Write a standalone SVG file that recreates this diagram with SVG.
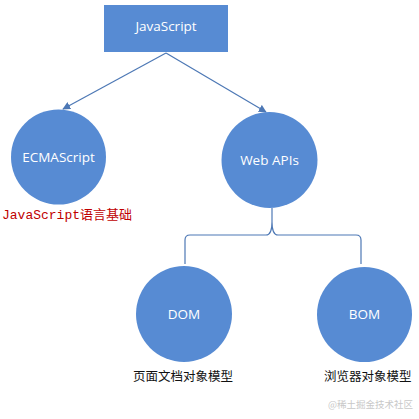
<svg xmlns="http://www.w3.org/2000/svg" width="419" height="419" viewBox="0 0 419 419">
<style>
.n{fill:#578bd3}
.t{font-family:"Open Sans","Liberation Sans",sans-serif;font-size:13.5px;fill:#fff;text-anchor:middle}
.c{fill:none;stroke:#4d78b5;stroke-width:1.2}
.l{font-family:"Noto Sans CJK SC",sans-serif;font-size:12.5px;fill:#111}
</style>
<defs>
<marker id="a" viewBox="0 0 10 10" refX="9" refY="5" markerWidth="8" markerHeight="8" orient="auto" markerUnits="userSpaceOnUse">
<path d="M0,0 L10,5 L0,10 z" fill="#4d78b5"/>
</marker>
</defs>
<rect width="419" height="419" fill="#fff"/>
<g id="connectors">
<path class="c" d="M166,53 L63,109" marker-end="url(#a)"/>
<path class="c" d="M166,53 L266,112" marker-end="url(#a)"/>
<path class="c" d="M272,208 L272,222"/>
<path class="c" d="M185,264 L185,240 Q185,235 190,235 L266,235 Q272,235 272,222 Q272,235 278,235 L356,235 Q361,235 361,240 L361,264"/>
</g>
<g id="javascript">
<rect class="n" x="104" y="5" width="124" height="47"/>
<text class="t" x="166" y="31">JavaScript</text>
</g>
<g id="ecmascript">
<circle class="n" cx="58.5" cy="157" r="47.5"/>
<text class="t" x="58.5" y="162">ECMAScript</text>
<text x="2" y="219" font-size="13" fill="#c00000"><tspan font-family="'Liberation Mono',monospace">JavaScript</tspan><tspan font-family="'Noto Sans CJK SC',sans-serif">语言基础</tspan></text>
</g>
<g id="webapis">
<circle class="n" cx="269.5" cy="160" r="48"/>
<text class="t" x="269.5" y="165">Web APIs</text>
</g>
<g id="dom">
<circle class="n" cx="184" cy="314" r="48"/>
<text class="t" x="184" y="319">DOM</text>
<text class="l" x="133" y="381">页面文档对象模型</text>
</g>
<g id="bom">
<circle class="n" cx="364.5" cy="314.5" r="47.5"/>
<text class="t" x="364.5" y="319">BOM</text>
<text class="l" x="324" y="381">浏览器对象模型</text>
</g>
<text x="328" y="408" font-family="'Noto Sans CJK SC',sans-serif" font-size="9.5" fill="#c8c8c8">@稀土掘金技术社区</text>
</svg>
